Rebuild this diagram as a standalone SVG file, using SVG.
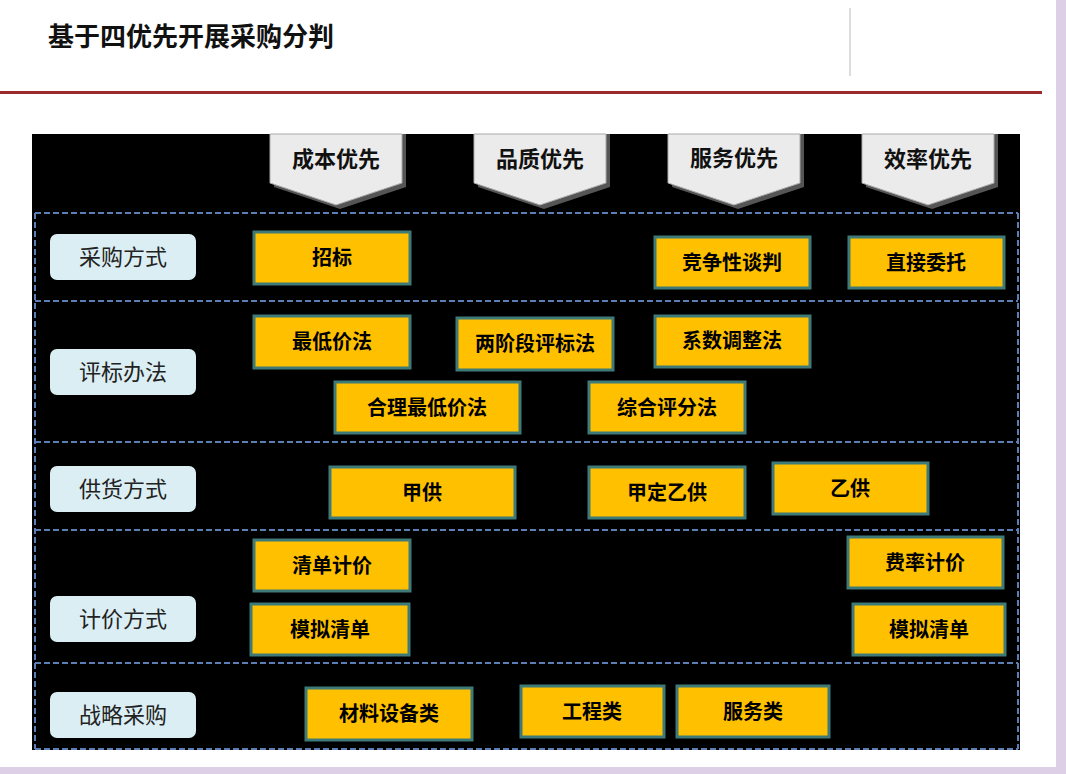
<svg xmlns="http://www.w3.org/2000/svg" width="1066" height="774" viewBox="0 0 1066 774">
<style>
.t{font-family:"Noto Sans CJK SC","Noto Sans",sans-serif}
.b rect{fill:#ffc000;stroke:#3d7a78;stroke-width:3}
.b text{font-family:"Noto Sans CJK SC",sans-serif;font-weight:bold;font-size:20px;text-anchor:middle;fill:#000}
.l rect{fill:#dbeef3}
.l text{font-family:"Noto Sans CJK SC",sans-serif;font-size:22px;text-anchor:middle;fill:#222}
.h path.s{fill:#555}
.h path.f{fill:#ebebeb;stroke:#aaa;stroke-width:1}
.h text{font-family:"Noto Sans CJK SC",sans-serif;font-weight:bold;font-size:22px;text-anchor:middle;fill:#111}
.d{stroke:#5b7fb5;stroke-width:2;stroke-dasharray:6 3;fill:none}
</style>
<rect width="1066" height="774" fill="#fff"/>
<rect x="1056" y="0" width="10" height="774" fill="#dccfe6"/>
<rect x="0" y="767" width="1066" height="7" fill="#dccfe6"/>
<text class="t" x="48" y="46" font-size="26" font-weight="bold" fill="#111">基于四优先开展采购分判</text>
<line x1="850" y1="8" x2="850" y2="76" stroke="#ddd" stroke-width="2"/>
<rect x="0" y="91" width="1042" height="3" fill="#9b2a2a"/>
<rect x="32" y="134" width="988" height="616" fill="#000"/>
<g id="connectors">
<path class="d" d="M35 213H1018M35 301H1018M35 442H1018M35 530H1018M35 663H1018M35 749H1018M35 213V749M1018 213V749"/>
</g>
<g class="h">
<g id="h1"><path class="s" d="M274 134H406V187L340 209L274 187Z"/><path class="f" d="M270 134H402V183L336 205L270 183Z"/><text x="336" y="167">成本优先</text></g>
<g id="h2"><path class="s" d="M478 134H610V187L544 209L478 187Z"/><path class="f" d="M474 134H606V183L540 205L474 183Z"/><text x="540" y="167">品质优先</text></g>
<g id="h3"><path class="s" d="M672 134H804V187L738 209L672 187Z"/><path class="f" d="M668 134H800V183L734 205L668 183Z"/><text x="734" y="166">服务优先</text></g>
<g id="h4"><path class="s" d="M866 134H998V187L932 209L866 187Z"/><path class="f" d="M862 134H994V183L928 205L862 183Z"/><text x="928" y="167">效率优先</text></g>
</g>
<g class="l">
<g id="l1"><rect x="50" y="234" width="146" height="46" rx="7"/><text x="123" y="265">采购方式</text></g>
<g id="l2"><rect x="50" y="349" width="146" height="46" rx="7"/><text x="123" y="380">评标办法</text></g>
<g id="l3"><rect x="50" y="466" width="146" height="46" rx="7"/><text x="123" y="497">供货方式</text></g>
<g id="l4"><rect x="50" y="596" width="146" height="46" rx="7"/><text x="123" y="627">计价方式</text></g>
<g id="l5"><rect x="50" y="692" width="146" height="46" rx="7"/><text x="123" y="723">战略采购</text></g>
</g>
<g class="b">
<g id="n1"><rect x="254" y="232" width="156" height="52"/><text x="332" y="265">招标</text></g>
<g id="n2"><rect x="655" y="237" width="155" height="51"/><text x="732" y="270">竞争性谈判</text></g>
<g id="n3"><rect x="849" y="237" width="155" height="51"/><text x="926" y="270">直接委托</text></g>
<g id="n4"><rect x="254" y="316" width="156" height="52"/><text x="332" y="349">最低价法</text></g>
<g id="n5"><rect x="457" y="318" width="156" height="52"/><text x="535" y="351">两阶段评标法</text></g>
<g id="n6"><rect x="655" y="316" width="155" height="51"/><text x="732" y="348">系数调整法</text></g>
<g id="n7"><rect x="335" y="382" width="185" height="51"/><text x="427" y="415">合理最低价法</text></g>
<g id="n8"><rect x="589" y="382" width="156" height="51"/><text x="667" y="415">综合评分法</text></g>
<g id="n9"><rect x="330" y="467" width="185" height="51"/><text x="422" y="500">甲供</text></g>
<g id="n10"><rect x="589" y="467" width="156" height="51"/><text x="667" y="500">甲定乙供</text></g>
<g id="n11"><rect x="773" y="463" width="155" height="51"/><text x="850" y="496">乙供</text></g>
<g id="n12"><rect x="254" y="540" width="156" height="51"/><text x="332" y="573">清单计价</text></g>
<g id="n13"><rect x="848" y="537" width="155" height="51"/><text x="925" y="570">费率计价</text></g>
<g id="n14"><rect x="251" y="604" width="158" height="51"/><text x="330" y="637">模拟清单</text></g>
<g id="n15"><rect x="853" y="604" width="152" height="51"/><text x="929" y="637">模拟清单</text></g>
<g id="n16"><rect x="306" y="688" width="166" height="52"/><text x="389" y="721">材料设备类</text></g>
<g id="n17"><rect x="521" y="686" width="143" height="51"/><text x="592" y="719">工程类</text></g>
<g id="n18"><rect x="677" y="686" width="152" height="51"/><text x="753" y="719">服务类</text></g>
</g>
</svg>
